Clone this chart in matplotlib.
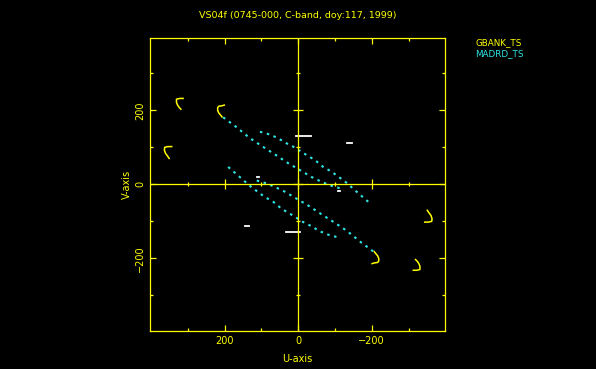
import numpy as np
import matplotlib.pyplot as plt

# GBANK_TS arcs (u, v), conjugates drawn as (-u, -v)
gb_arc1_u = [313, 322, 331, 331, 328, 324, 319]
gb_arc1_v = [232, 232, 230, 221, 214, 208, 203]
gb_arc2_u = [201, 208, 216, 219, 219, 216, 211, 207]
gb_arc2_v = [214, 212, 211, 207, 200, 193, 187, 182]
gb_arc3_u = [344, 354, 363, 364, 361, 355, 351]
gb_arc3_v = [102, 102, 100, 93, 84, 76, 70]

# MADRD_TS tracks
md_a_u = [204, 170, 133, 100, 65, 27, -9, -36, -59, -84, -122]
md_a_v = [181, 156, 126, 104, 82, 57, 36, 20, 9, -2, -13]
md_b_u = [104, 82, 57, 36, 12, -23, -45, -68, -91, -113, -133, -159, -195]
md_b_v = [142, 136, 126, 113, 101, 79, 66, 47, 34, 18, 3, -20, -51]

# other baselines (white)
wh_u = [[6, -34], [-133, -145], [113, 107]]
wh_v = [[130, 130], [112, 112], [19, 19]]

major_ticks = [-200, 0, 200]
minor_ticks = [-300, -100, 100, 300]

yellow = '#ffff00'
cyan = '#2ee6e6'

fig = plt.figure(figsize=(5.96, 3.69), dpi=100, facecolor='black')
ax = fig.add_axes([150 / 596, 38 / 369, 295.3 / 596, 293.3 / 369])
ax.set_facecolor('black')

for us, vs in [(gb_arc1_u, gb_arc1_v), (gb_arc2_u, gb_arc2_v), (gb_arc3_u, gb_arc3_v)]:
    us, vs = np.array(us), np.array(vs)
    ax.plot(us, vs, color=yellow, lw=1.1)
    ax.plot(-us, -vs, color=yellow, lw=1.1)

for us, vs in [(md_a_u, md_a_v), (md_b_u, md_b_v)]:
    us, vs = np.array(us), np.array(vs)
    ax.plot(us, vs, color=cyan, lw=1.5, dashes=(1.2, 2.2))
    ax.plot(-us, -vs, color=cyan, lw=1.5, dashes=(1.2, 2.2))

for us, vs in zip(wh_u, wh_v):
    us, vs = np.array(us), np.array(vs)
    ax.plot(us, vs, color='white', lw=1.3)
    ax.plot(-us, -vs, color='white', lw=1.3)

# zero axes with crossing ticks
ax.axhline(0, color=yellow, lw=0.9)
ax.axvline(0, color=yellow, lw=0.9)
zmaj = np.zeros(len(major_ticks))
zmin = np.zeros(len(minor_ticks))
ax.plot(major_ticks, zmaj, ls='none', marker='|', ms=6.5, mew=0.9, color=yellow)
ax.plot(minor_ticks, zmin, ls='none', marker='|', ms=3, mew=0.9, color=yellow)
ax.plot(zmaj, major_ticks, ls='none', marker='_', ms=6.5, mew=0.9, color=yellow)
ax.plot(zmin, minor_ticks, ls='none', marker='_', ms=3, mew=0.9, color=yellow)

ax.set_xlim(403, -400)
ax.set_ylim(-396, 396)
ax.set_xticks(major_ticks)
ax.set_yticks(major_ticks)
ax.set_xticks(minor_ticks, minor=True)
ax.set_yticks(minor_ticks, minor=True)
ax.tick_params(which='both', direction='in', top=True, right=True, color=yellow,
               labelcolor=yellow, labelsize=7, width=0.9)
ax.tick_params(which='major', length=4.5, pad=3.5)
ax.tick_params(which='minor', length=2.2)
for lab in ax.get_yticklabels():
    lab.set_rotation(90)
    lab.set_va('center')
for sp in ax.spines.values():
    sp.set_color(yellow)
    sp.set_linewidth(0.9)

ax.set_xlabel('U-axis', color=yellow, fontsize=7)
ax.xaxis.set_label_coords(0.5, -0.0955)
ax.xaxis.label.set_va('center')
ax.set_ylabel('V-axis', color=yellow, fontsize=7)
ax.yaxis.set_label_coords(-0.078, 0.5)
ax.yaxis.label.set_va('center')

fig.text(297.5 / 596, 1 - 15.7 / 369, 'VS04f (0745-000, C-band, doy:117, 1999)',
         color=yellow, fontsize=6.8, ha='center', va='center')
fig.text(475 / 596, 1 - 42.3 / 369, 'GBANK_TS', color=yellow, fontsize=6.3,
         ha='left', va='center')
fig.text(475 / 596, 1 - 53.3 / 369, 'MADRD_TS', color=cyan, fontsize=6.3,
         ha='left', va='center')

fig.savefig('out.png', dpi=100, facecolor='black')
